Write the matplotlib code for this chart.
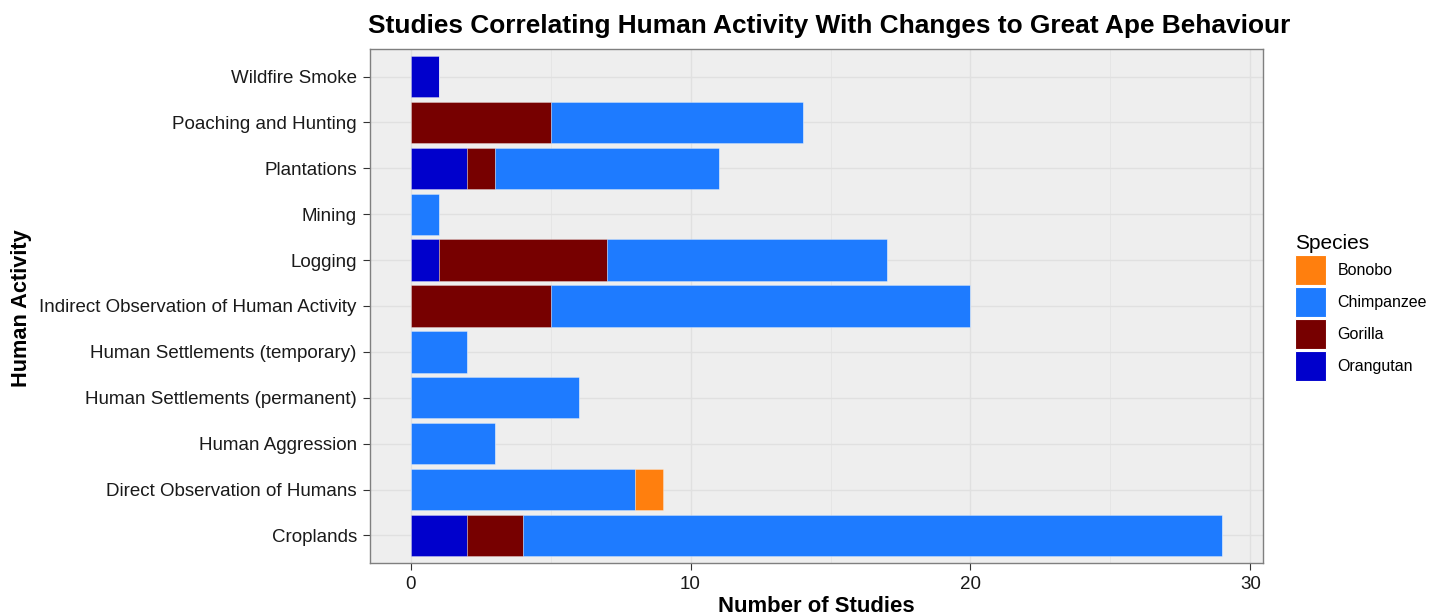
import matplotlib
matplotlib.use("Agg")
import matplotlib.pyplot as plt
import numpy as np
from matplotlib.patches import Patch

plt.rcParams["font.family"] = ["Liberation Sans", "DejaVu Sans"]

# categories, bottom to top
activities = [
    "Croplands",
    "Direct Observation of Humans",
    "Human Aggression",
    "Human Settlements (permanent)",
    "Human Settlements (temporary)",
    "Indirect Observation of Human Activity",
    "Logging",
    "Mining",
    "Plantations",
    "Poaching and Hunting",
    "Wildfire Smoke",
]

# counts per species, same order as activities
orangutan  = [2, 0, 0, 0, 0, 0, 1, 0, 2, 0, 1]
gorilla    = [2, 0, 0, 0, 0, 5, 6, 0, 1, 5, 0]
chimpanzee = [25, 8, 3, 6, 2, 15, 10, 1, 8, 9, 0]
bonobo     = [0, 1, 0, 0, 0, 0, 0, 0, 0, 0, 0]

species = ["Bonobo", "Chimpanzee", "Gorilla", "Orangutan"]
colors = {"Bonobo": "#FF7F0E", "Chimpanzee": "#1E7BFF",
          "Gorilla": "#770000", "Orangutan": "#0000CC"}

fig = plt.figure(figsize=(14.43, 6.15), dpi=100)
ax = fig.add_axes([0.2564, 0.0846, 0.6189, 0.8357])
ax.set_facecolor("#EEEEEE")

y = np.arange(1, len(activities) + 1)
left = np.zeros(len(activities))
# stack left to right: Orangutan, Gorilla, Chimpanzee, Bonobo
for name, vals in [("Orangutan", orangutan), ("Gorilla", gorilla),
                   ("Chimpanzee", chimpanzee), ("Bonobo", bonobo)]:
    vals = np.array(vals, dtype=float)
    ax.barh(y, vals, left=left, height=0.9, color=colors[name],
            edgecolor=(1, 1, 1, 0.35), linewidth=0.6, zorder=3)
    left += vals

ax.set_xlim(-1.45, 30.45)
ax.set_ylim(0.4, len(activities) + 0.6)
ax.set_xticks([0, 10, 20, 30])
ax.set_xticks([5, 15, 25], minor=True)
ax.set_yticks(y)
ax.set_yticklabels(activities)
ax.grid(which="major", color="#E0E0E0", lw=1.0, zorder=0)
ax.grid(which="minor", axis="x", color="#E4E4E4", lw=0.6, zorder=0)
ax.tick_params(which="minor", length=0)
ax.tick_params(which="major", length=5, color="#333333", labelsize=13.5,
               labelcolor="#1A1A1A", pad=4.5)
for s in ax.spines.values():
    s.set_color("#7F7F7F")
    s.set_linewidth(1.0)

fig.text(816 / 1443, 0.005, "Number of Studies", fontsize=15.9,
         fontweight="bold", ha="center", va="baseline")
fig.text(22 / 1443, 1 - 308 / 615, "Human Activity", fontsize=15.7,
         fontweight="bold", ha="center", va="center", rotation=90)
fig.text(829 / 1443, 1 - 33 / 615,
         "Studies Correlating Human Activity With Changes to Great Ape Behaviour",
         fontsize=18.9, fontweight="bold", ha="center", va="baseline")

handles = [Patch(facecolor=colors[s], edgecolor="white", lw=0.8) for s in species]
leg = fig.legend(handles, species, title="Species", loc="upper left",
                 bbox_to_anchor=(1281 / 1443, 1 - 220 / 615), frameon=False,
                 fontsize=11.5, title_fontsize=15, handlelength=1.9,
                 handleheight=2.55, handletextpad=0.75, labelspacing=0.1)
leg._legend_box.align = "left"

fig.savefig("out.png", dpi=100)
